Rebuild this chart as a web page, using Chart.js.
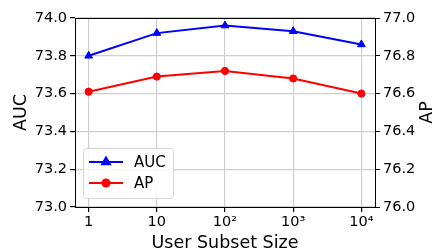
<!DOCTYPE html>
<html>
<head>
<meta charset="utf-8">
<script src="https://cdn.jsdelivr.net/npm/chart.js@4/dist/chart.umd.min.js"></script>
<style>
  html, body { margin: 0; padding: 0; background: #fff; }
  #wrap { width: 438px; height: 250px; position: relative; }
</style>
</head>
<body>
<div id="wrap"><canvas id="chart"></canvas></div>
<script>
// data
const subsetSizes = [1, 10, 100, 1000, 10000];
const subsetLabels = ['1', '10', '10\u00b2', '10\u00b3', '10\u2074'];
const aucValues = [73.80, 73.92, 73.96, 73.93, 73.86];
const apValues = [76.61, 76.69, 76.72, 76.68, 76.60];

const FONT = 'DejaVu Sans';
const GRID = '#cfcfcf';

// x is plotted on a log10 axis
const toPoints = vals => vals.map((v, i) => ({ x: Math.log10(subsetSizes[i]), y: v }));

// top of frame, legend box and right-hand title
const extras = {
    id: 'extras',
    afterDraw(chart) {
        const ctx = chart.ctx;
        const ca = chart.chartArea;
        ctx.save();

        // top spine (the axes draw the other three)
        ctx.strokeStyle = '#000';
        ctx.lineWidth = 1;
        ctx.beginPath();
        ctx.moveTo(ca.left, Math.round(ca.top) + 0.5);
        ctx.lineTo(ca.right + 1, Math.round(ca.top) + 0.5);
        ctx.stroke();

        // legend
        const bx = ca.left + 8, by = ca.bottom - 59, bw = 90, bh = 50;
        ctx.fillStyle = 'rgba(255,255,255,0.85)';
        ctx.strokeStyle = '#d6d6d6';
        ctx.beginPath();
        ctx.roundRect(bx + 0.5, by + 0.5, bw, bh, 3);
        ctx.fill();
        ctx.stroke();

        const rows = [
            { text: 'AUC', color: '#0000ff', style: 'triangle', y: by + 14 },
            { text: 'AP', color: '#ff0000', style: 'circle', y: by + 35 }
        ];
        rows.forEach(r => {
            ctx.strokeStyle = r.color;
            ctx.lineWidth = 2;
            ctx.beginPath();
            ctx.moveTo(bx + 6, r.y);
            ctx.lineTo(bx + 40, r.y);
            ctx.stroke();
            ctx.fillStyle = r.color;
            Chart.helpers.drawPoint(ctx, { pointStyle: r.style, radius: r.style === 'triangle' ? 4.5 : 3.6, borderWidth: 1 }, bx + 23, r.y);
            ctx.fill();
            ctx.fillStyle = '#000';
            ctx.font = '15px "' + FONT + '"';
            ctx.textBaseline = 'middle';
            ctx.fillText(r.text, bx + 51, r.y + 1);
        });

        // right axis title, reading bottom to top
        ctx.translate(427, (ca.top + ca.bottom) / 2);
        ctx.rotate(-Math.PI / 2);
        ctx.textAlign = 'center';
        ctx.textBaseline = 'middle';
        ctx.fillStyle = '#000';
        ctx.font = '17.5px "' + FONT + '"';
        ctx.fillText('AP', 0, 0);
        ctx.restore();
    }
};

new Chart(document.getElementById('chart'), {
    type: 'line',
    data: {
        datasets: [
            {
                label: 'AUC',
                data: toPoints(aucValues),
                yAxisID: 'y',
                borderColor: '#0000ff',
                backgroundColor: '#0000ff',
                borderWidth: 2,
                pointStyle: 'triangle',
                pointRadius: 4.5,
                pointBorderWidth: 1,
                tension: 0
            },
            {
                label: 'AP',
                data: toPoints(apValues),
                yAxisID: 'y1',
                borderColor: '#ff0000',
                backgroundColor: '#ff0000',
                borderWidth: 2,
                pointStyle: 'circle',
                pointRadius: 3.6,
                pointBorderWidth: 1,
                tension: 0
            }
        ]
    },
    options: {
        responsive: true,
        maintainAspectRatio: false,
        animation: false,
        layout: { padding: { top: 18, left: 0, right: 0, bottom: 0 } },
        plugins: {
            legend: { display: false },
            tooltip: { enabled: false }
        },
        scales: {
            x: {
                type: 'linear',
                min: -0.2,
                max: 4.2,
                afterBuildTicks: scale => {
                    scale.ticks = subsetSizes.map(s => ({ value: Math.log10(s) }));
                },
                afterFit: scale => { scale.height = 43; },
                grid: { color: GRID, lineWidth: 1.2, tickColor: '#000', tickLength: 5 },
                border: { display: true, color: '#000' },
                ticks: {
                    color: '#000',
                    padding: 2,
                    font: { family: FONT, size: 14.5 },
                    callback: (v) => subsetLabels[subsetSizes.indexOf(Math.round(Math.pow(10, v)))]
                },
                title: {
                    display: true,
                    text: 'User Subset Size',
                    color: '#000',
                    font: { family: FONT, size: 17.5, lineHeight: 0.7 },
                    padding: 0
                }
            },
            y: {
                position: 'left',
                min: 73.0,
                max: 74.0,
                afterFit: scale => { scale.width = 75; },
                grid: { color: GRID, lineWidth: 1.2, tickColor: '#000', tickLength: 5 },
                border: { display: true, color: '#000' },
                ticks: {
                    stepSize: 0.2,
                    color: '#000',
                    padding: 3,
                    font: { family: FONT, size: 14.5 },
                    callback: v => v.toFixed(1)
                },
                title: {
                    display: true,
                    text: 'AUC',
                    color: '#000',
                    font: { family: FONT, size: 17.5, lineHeight: 1.2 },
                    padding: { top: 11, bottom: 0 }
                }
            },
            y1: {
                position: 'right',
                min: 76.0,
                max: 77.0,
                afterFit: scale => { scale.width = 63; },
                grid: { drawOnChartArea: false, tickColor: '#000', tickLength: 5 },
                border: { display: true, color: '#000' },
                ticks: {
                    stepSize: 0.2,
                    color: '#000',
                    padding: 3,
                    font: { family: FONT, size: 14.5 },
                    callback: v => v.toFixed(1)
                }
            }
        }
    },
    plugins: [extras]
});
</script>
</body>
</html>
